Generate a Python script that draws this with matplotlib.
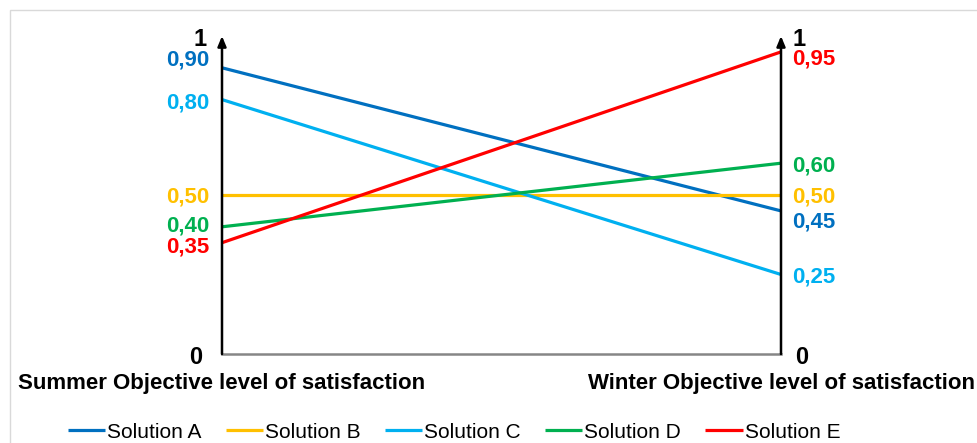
import matplotlib.pyplot as plt
from matplotlib.patches import Rectangle

plt.rcParams['font.family'] = ['Liberation Sans', 'DejaVu Sans']

solutions = ['Solution A', 'Solution B', 'Solution C', 'Solution D', 'Solution E']
summer = [0.90, 0.50, 0.80, 0.40, 0.35]
winter = [0.45, 0.50, 0.25, 0.60, 0.95]
colors = ['#0070C0', '#FFC000', '#00B0F0', '#00B050', '#FF0000']
# small nudges so labels don't overlap
left_nudge = [0.026, -0.006, -0.01, 0.002, -0.015]
right_nudge = [-0.036, -0.006, -0.009, -0.01, -0.023]

fig = plt.figure(figsize=(9.77, 4.43), dpi=100)
fig.patches.append(Rectangle((10 / 977, -0.1), 1.2, 1 - 10 / 443 + 0.1,
                             transform=fig.transFigure, fill=False,
                             edgecolor='#d9d9d9', lw=1))
ax = fig.add_axes([222 / 977, 1 - 354 / 443, 559 / 977, 318 / 443])
ax.set_xlim(0, 1)
ax.set_ylim(0, 1)
ax.axis('off')

for name, s, w, c in zip(solutions, summer, winter, colors):
    ax.plot([0, 1], [s, w], color=c, lw=2.3, label=name, solid_capstyle='butt')

# axes
ax.plot([0, 1], [0, 0], color='#868686', lw=1.8, clip_on=False)
for x in (0, 1):
    ax.annotate('', xy=(x, 1.0), xytext=(x, 0), xycoords='data',
                arrowprops=dict(arrowstyle='-|>,head_length=0.6,head_width=0.25',
                                color='black', lw=1.8, shrinkA=0, shrinkB=0),
                annotation_clip=False)

for s, w, c, ln, rn in zip(summer, winter, colors, left_nudge, right_nudge):
    ax.text(-0.023, s + ln, f'{s:.2f}'.replace('.', ','), color=c, ha='right',
            va='center', fontsize=16, fontweight='bold')
    ax.text(1.02, w + rn, f'{w:.2f}'.replace('.', ','), color=c, ha='left',
            va='center', fontsize=16, fontweight='bold')

ax.text(-0.027, 0.99, '1', ha='right', va='center', fontsize=17, fontweight='bold')
ax.text(1.02, 0.99, '1', ha='left', va='center', fontsize=17, fontweight='bold')
ax.text(-0.035, -0.01, '0', ha='right', va='center', fontsize=17, fontweight='bold')
ax.text(1.025, -0.01, '0', ha='left', va='center', fontsize=17, fontweight='bold')

ax.text(0, -0.093, 'Summer Objective level of satisfaction', ha='center', va='center',
        fontsize=16, fontweight='bold')
ax.text(1, -0.093, 'Winter Objective level of satisfaction', ha='center', va='center',
        fontsize=16, fontweight='bold')

fig.legend(loc='center', bbox_to_anchor=(454 / 977, 1 - 432 / 443), ncol=5,
           frameon=False, fontsize=15, handlelength=1.8, handletextpad=0.1,
           columnspacing=1.15)

fig.savefig('out.png', dpi=100)
